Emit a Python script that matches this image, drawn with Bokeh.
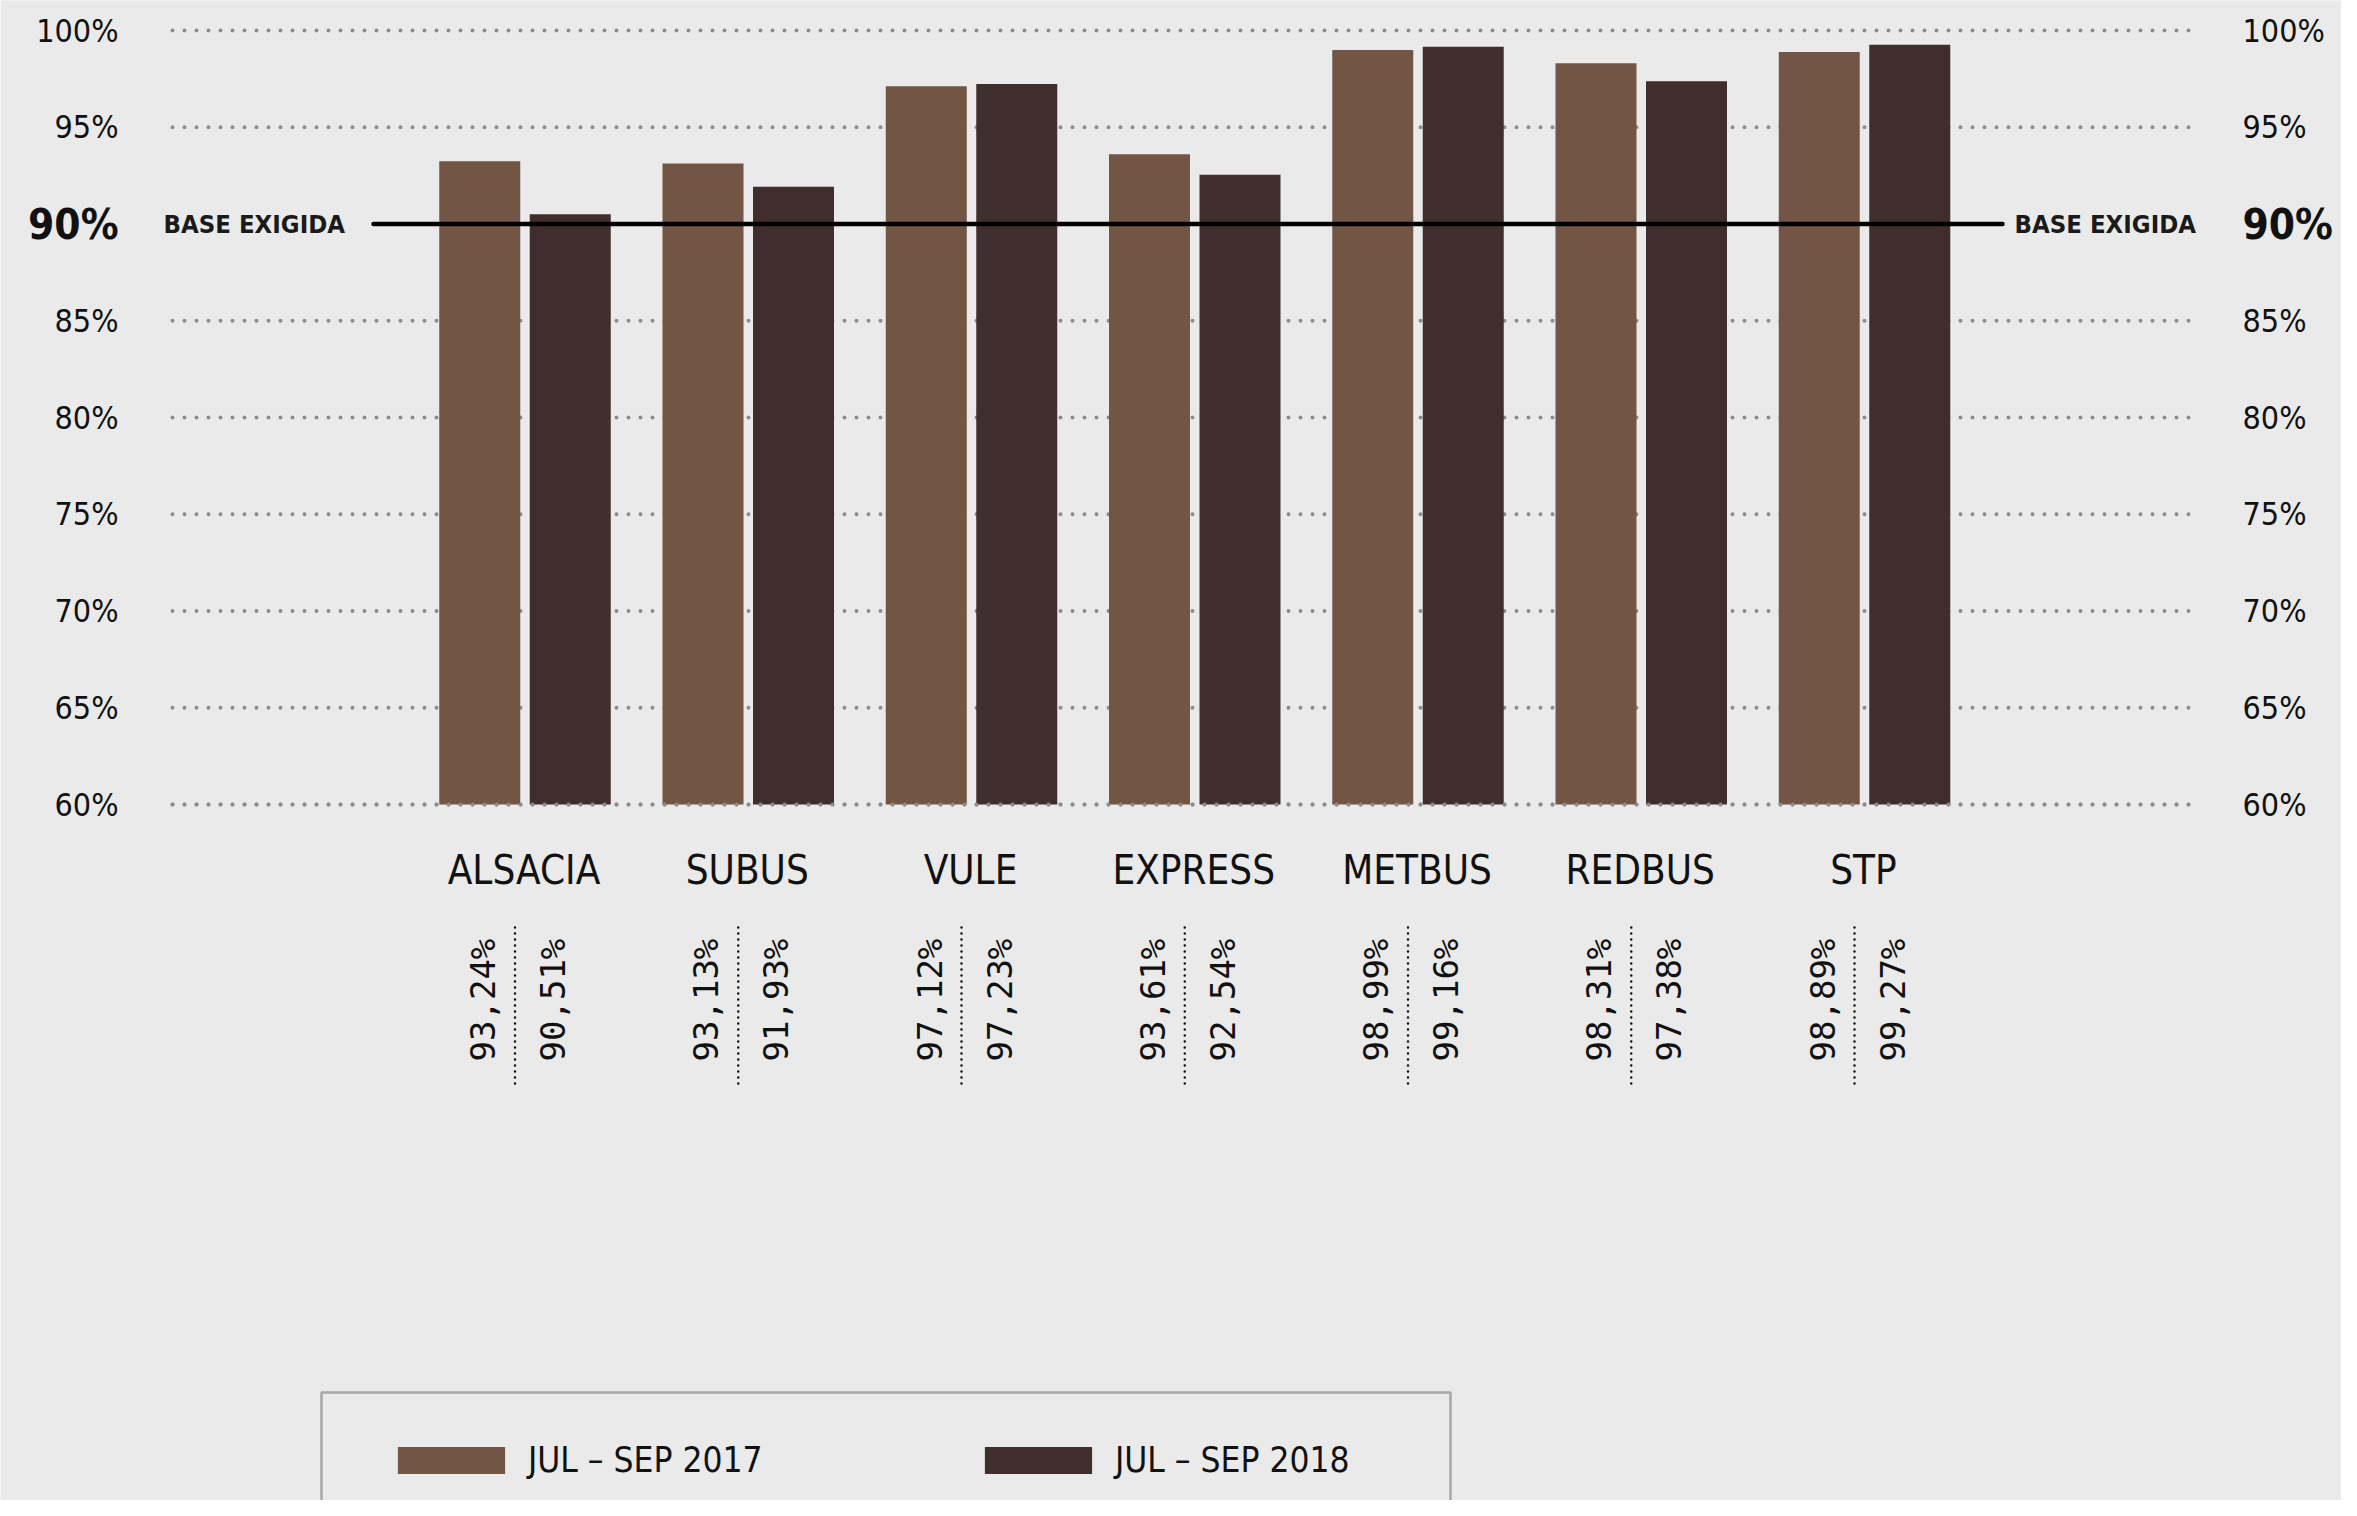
import math
from bokeh.plotting import figure
from bokeh.models import (Range1d, Legend, LegendItem, BoxAnnotation, ColumnDataSource)
from bokeh.core.properties import value
from bokeh.embed import file_html
from bokeh.resources import INLINE

# ---------------- data ----------------
categories = ["ALSACIA", "SUBUS", "VULE", "EXPRESS", "METBUS", "REDBUS", "STP"]
values_2017 = [93.24, 93.13, 97.12, 93.61, 98.99, 98.31, 98.89]
values_2018 = [90.51, 91.93, 97.23, 92.54, 99.16, 97.38, 99.27]
series_labels = ["JUL – SEP 2017", "JUL – SEP 2018"]
y_ticks = [60, 65, 70, 75, 80, 85, 95, 100]
y_tick_labels = ["60%", "65%", "70%", "75%", "80%", "85%", "95%", "100%"]
base_level = 90
base_tick_label = "90%"
base_label = "BASE EXIGIDA"
y_floor = 60

# ---------------- layout (pixels) ----------------
W, H = 2341, 1500
C0 = 524.5          # first group centre
PITCH = 223.25      # px between groups
Y100 = 30           # px of 100 %
PX_PCT = 19.35      # px per 1 %

def xd(px):
    return (px - C0) / PITCH

def yd(py):
    return 100 - (py - Y100) / PX_PCT

FONT = "DejaVu Sans Condensed, Open Sans"
MONO = "DejaVu Sans Mono"
C17, C18 = "#725545", "#3f2e2b"
BG = "#eaeaea"
INK = "#111111"
GRID = "#8c8c8c"

p = figure(width=W, height=H, output_backend="svg", toolbar_location=None,
           x_range=Range1d(xd(0), xd(W)), y_range=Range1d(yd(H), yd(0)),
           x_axis_location=None, y_axis_location=None,
           min_border=0)
p.outline_line_color = None
p.background_fill_color = BG
p.border_fill_color = BG
p.grid.visible = False

# dotted grid lines
n_t = len(y_ticks)
grid_src = ColumnDataSource(dict(y=y_ticks, x0=[xd(172)] * n_t, x1=[xd(2191)] * n_t,
                                 lab=y_tick_labels,
                                 xl=[xd(118)] * n_t, xr=[xd(2242)] * n_t))
p.segment(x0="x0", x1="x1", y0="y", y1="y", source=grid_src, line_color=GRID,
          line_width=4, line_dash="0 12", line_cap="round")

# tick labels (left and right)
p.text(x="xl", y="y", text="lab", source=grid_src, text_align="right", text_baseline="middle",
       text_font=value(FONT), text_font_size="32px", text_color=INK)
p.text(x="xr", y="y", text="lab", source=grid_src, text_align="left", text_baseline="middle",
       text_font=value(FONT), text_font_size="32px", text_color=INK)

# bars
idx = list(range(len(categories)))
off = 45.25 / PITCH
bw = 81 / PITCH
src = ColumnDataSource(dict(
    x17=[i - off for i in idx], x18=[i + off for i in idx],
    v17=values_2017, v18=values_2018, xc=idx, cat=categories,
    t17=[f"{v:.2f}".replace(".", ",") + "%" for v in values_2017],
    t18=[f"{v:.2f}".replace(".", ",") + "%" for v in values_2018],
    xl17=[i - 42 / PITCH for i in idx], xl18=[i + 28 / PITCH for i in idx],
    xs=[i - 10 / PITCH for i in idx],
))
r17 = p.vbar(x="x17", top="v17", bottom=y_floor, width=bw, source=src,
             fill_color=C17, line_color=None)
r18 = p.vbar(x="x18", top="v18", bottom=y_floor, width=bw, source=src,
             fill_color=C18, line_color=None)

# floor grid line drawn again over the bars
floor_src = ColumnDataSource(dict(y=[y_floor], x0=[xd(172)], x1=[xd(2191)]))
p.segment(x0="x0", x1="x1", y0="y", y1="y", source=floor_src, line_color=GRID,
          line_width=4, line_dash="0 12", line_cap="round")

# required base line and its labels
p.segment(x0=[xd(373)], x1=[xd(2002)], y0=[base_level], y1=[base_level],
          line_color="#000000", line_width=4.5, line_cap="round")
base_src = ColumnDataSource(dict(y=[base_level, base_level], txt=[base_tick_label] * 2,
                                 x=[xd(118), xd(2242)], al=["right", "left"],
                                 bx=[xd(163), xd(2014)], btxt=[base_label] * 2))
p.text(x="x", y="y", text="txt", source=base_src, text_align="al", text_baseline="middle",
       text_font=value(FONT), text_font_size="42px", text_font_style="bold", text_color=INK)
p.text(x="bx", y="y", text="btxt", source=base_src, text_align="left", text_baseline="middle",
       text_font=value(FONT), text_font_size="25.5px", text_font_style="bold",
       text_color="#1a1a1a")

# category labels
p.text(x="xc", y=yd(869.5), text="cat", source=src, text_align="center",
       text_baseline="middle", text_font=value(FONT), text_font_size="40px",
       text_color=INK, x_offset=-1)

# value labels (rotated)
for xcol, tcol in [("xl17", "t17"), ("xl18", "t18")]:
    p.text(x=xcol, y=yd(1061), text=tcol, source=src, angle=math.pi / 2,
           text_align="left", text_baseline="middle", text_font=value(MONO),
           text_font_size="34px", text_color=INK)

# dotted separators
p.segment(x0="xs", x1="xs", y0=yd(927), y1=yd(1088), source=src,
          line_color=INK, line_width=2.5, line_dash="0 6", line_cap="round")

# legend frame
p.add_layout(BoxAnnotation(left=xd(321), right=xd(1450), top=yd(1392), bottom=yd(1570),
                           fill_alpha=0, line_color=INK, line_width=2.5))

legend = Legend(items=[LegendItem(label=series_labels[0], renderers=[r17]),
                       LegendItem(label=series_labels[1], renderers=[r18])],
                orientation="horizontal", location=(384, 20), padding=0, margin=0,
                spacing=193, glyph_width=134, glyph_height=34, label_standoff=10,
                label_width=250, label_text_font=FONT, label_text_font_size="35px",
                label_text_color=INK, border_line_color=None,
                background_fill_alpha=0)
p.add_layout(legend)

open("out.html", "w").write(file_html(p, INLINE))
